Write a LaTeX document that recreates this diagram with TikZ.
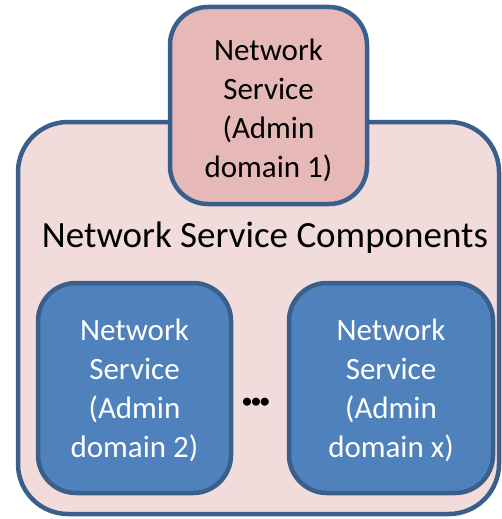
\documentclass[tikz,border=0pt]{standalone}
\usepackage{fontspec}
\setmainfont{Carlito}
\definecolor{edge}{HTML}{3A5F8B}
\definecolor{outerfill}{HTML}{F2DCDB}
\definecolor{topfill}{HTML}{E6B9B8}
\definecolor{innerfill}{HTML}{4F81BD}
\tikzset{
  box/.style={draw=edge, line width=4.5pt, rectangle, inner sep=0pt, align=center,
    font=\fontsize{31}{39}\selectfont},
}
\begin{document}
\begin{tikzpicture}[x=1pt,y=-1pt]
\useasboundingbox (0,0) rectangle (501,519);
\node[box, fill=outerfill, minimum width=481pt, minimum height=392pt, rounded corners=50pt] (outer) at (258.5,318) {};
\node[box, fill=topfill, minimum width=197pt, minimum height=197pt, rounded corners=38pt] (top) at (268.5,105.5) {};
\node[align=center, font=\fontsize{31}{39}\selectfont] (toptext) at (268.5,110) {Network\\Service\\(Admin\\domain 1)};
\node[font=\fontsize{37}{39}\selectfont, inner sep=0pt] (title) at (265,238) {Network Service Components};
\node[box, fill=innerfill, minimum width=193pt, minimum height=210pt, rounded corners=38pt] (left) at (134.5,388) {};
\node[align=center, text=white, font=\fontsize{31}{39}\selectfont] (lefttext) at (134.5,390.5) {Network\\Service\\(Admin\\domain 2)};
\node[box, fill=innerfill, minimum width=204pt, minimum height=210pt, rounded corners=38pt] (right) at (391,388) {};
\node[align=center, text=white, font=\fontsize{31}{39}\selectfont] (righttext) at (391,390.5) {Network\\Service\\(Admin\\domain x)};
\node[font=\fontsize{19}{20}\selectfont\bfseries, inner sep=0pt] (dots) at (256,403) {\textbullet\kern-0.5pt\textbullet\kern-0.5pt\textbullet};
\end{tikzpicture}
\end{document}
